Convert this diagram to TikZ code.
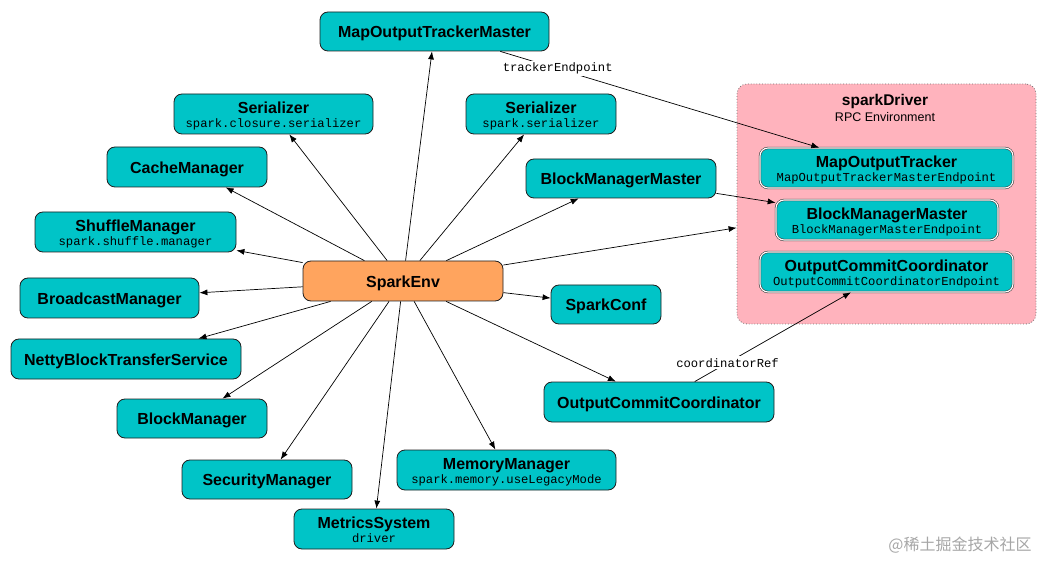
\documentclass[tikz,border=0pt]{standalone}
\usepackage{fontspec}
\setmainfont{Liberation Sans}
\newfontfamily\monof{Liberation Mono}
\newfontfamily\cjk{Noto Sans CJK SC}
\usetikzlibrary{arrows.meta}
\definecolor{teal1}{RGB}{0,196,199}
\definecolor{orange1}{RGB}{255,164,94}
\definecolor{pink1}{RGB}{255,179,189}
\definecolor{edge1}{RGB}{30,30,30}
\newcommand{\ttl}[1]{{\fontsize{16}{17}\selectfont\bfseries #1}}
\newcommand{\sub}[1]{{\fontsize{12.2}{13}\selectfont\mdseries\monof #1}}
\newcommand{\twol}[2]{\raisebox{-3pt}[\height][\depth]{\begin{tabular}{@{}c@{}}\ttl{#1}\\[-3pt]\sub{#2}\end{tabular}}}
\newcommand{\onel}[1]{\raisebox{-2pt}[\height][\depth]{\ttl{#1}}}
\begin{document}
\begin{tikzpicture}[x=1pt,y=-1pt,
  box/.style={draw=edge1, line width=0.8pt, fill=teal1, rounded corners=8pt,
    align=center, inner sep=0pt, font=\fontsize{16}{17}\selectfont\bfseries},
  innerbox/.style={box, draw=black!75, double=white, double distance=1.1pt, line width=0.6pt},
  envbox/.style={box, fill=orange1},
  arr/.style={-{Latex[length=8pt,width=6pt]}, line width=0.7pt, black},
  lbl/.style={fill=white, inner sep=2pt, font=\fontsize{12.2}{13}\selectfont\monof}
]
\useasboundingbox (0,0) rectangle (1047,561);

% sparkDriver container
\node[draw=black!55, dotted, line width=0.8pt, fill=pink1, rounded corners=10pt,
  minimum width=299pt, minimum height=240pt, inner sep=0pt] (driver) at (886.5,204) {};
\node[font=\fontsize{15.5}{17}\selectfont\bfseries, inner sep=0pt] (drvt) at (885,101) {sparkDriver};
\node[font=\fontsize{12.5}{14}\selectfont, inner sep=0pt] (drvs) at (885,117) {RPC Environment};

\node[innerbox, minimum width=253pt, minimum height=40pt] (mot) at (886.5,168) {\twol{MapOutputTracker}{MapOutputTrackerMasterEndpoint}};
\node[innerbox, minimum width=222pt, minimum height=40pt] (ibmm) at (887,220) {\twol{BlockManagerMaster}{BlockManagerMasterEndpoint}};
\node[innerbox, minimum width=253pt, minimum height=40pt] (iocc) at (886.5,272) {\twol{OutputCommitCoordinator}{OutputCommitCoordinatorEndpoint}};

% main nodes
\node[box, minimum width=229pt, minimum height=39pt] (motm) at (434.5,31.5) {\onel{MapOutputTrackerMaster}};
\node[box, minimum width=199pt, minimum height=40pt] (serl) at (273.5,114) {\twol{Serializer}{spark.closure.serializer}};
\node[box, minimum width=150pt, minimum height=40pt] (serr) at (541,114) {\twol{Serializer}{spark.serializer}};
\node[box, minimum width=160pt, minimum height=40pt] (cache) at (187,167) {\onel{CacheManager}};
\node[box, minimum width=190pt, minimum height=39pt] (bmm) at (621,178.5) {\onel{BlockManagerMaster}};
\node[box, minimum width=201pt, minimum height=40pt] (shuffle) at (135.5,232) {\twol{ShuffleManager}{spark.shuffle.manager}};
\node[envbox, minimum width=200pt, minimum height=40pt] (env) at (403,281) {\onel{SparkEnv}};
\node[box, minimum width=179pt, minimum height=40pt] (bcast) at (109.5,298) {\onel{BroadcastManager}};
\node[box, minimum width=110pt, minimum height=39pt] (conf) at (606,304.5) {\onel{SparkConf}};
\node[box, minimum width=230pt, minimum height=40pt] (netty) at (126,359) {\onel{NettyBlockTransferService}};
\node[box, minimum width=230pt, minimum height=40pt] (occ) at (659,402) {\onel{OutputCommitCoordinator}};
\node[box, minimum width=150pt, minimum height=39pt] (bm) at (192,418.5) {\onel{BlockManager}};
\node[box, minimum width=170pt, minimum height=39pt] (sec) at (267,479.5) {\onel{SecurityManager}};
\node[box, minimum width=219pt, minimum height=40pt] (mem) at (506.5,470) {\twol{MemoryManager}{spark.memory.useLegacyMode}};
\node[box, minimum width=160pt, minimum height=40pt] (metrics) at (374,529) {\twol{MetricsSystem}{driver}};

% edges from SparkEnv
\foreach \t in {motm,serl,serr,cache,bmm,shuffle,bcast,conf,netty,occ,bm,sec,mem,metrics,driver}
  \draw[arr] (env) -- (\t);

\draw[arr] (bmm) -- (ibmm);
\draw[arr] (motm) -- node[lbl, pos=0.18] (tl) {trackerEndpoint} (mot);
\draw[arr] (occ) -- node[lbl, pos=0.21] (cl) {coordinatorRef} (iocc);

% watermark
\node[text=black!35, font=\cjk\fontsize{16}{18}\selectfont, inner sep=0pt] (wm) at (960,545) {@稀土掘金技术社区};
\end{tikzpicture}
\end{document}
